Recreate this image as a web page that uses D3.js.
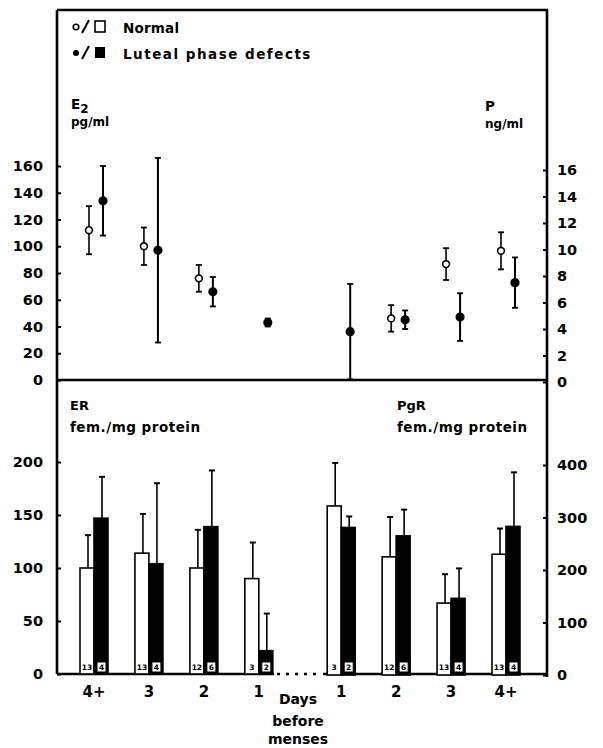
<!DOCTYPE html>
<html><head><meta charset="utf-8">
<script src="https://cdn.jsdelivr.net/npm/d3@7/dist/d3.min.js"></script>
<style>
body{margin:0;background:#fff}
text{font-family:"DejaVu Sans",sans-serif;font-weight:bold;fill:#000}
</style>
</head><body><svg id="c" width="603" height="748"></svg>
<script>
// ---------- data ----------
const leftDays = ["4+", "3", "2", "1"];
const rightDays = ["1", "2", "3", "4+"];
// E2 (pg/ml), days before menses 4+..1 (left half)
const e2NormalMean = [112, 100, 76, null];
const e2NormalSE   = [18, 14, 10, null];
const e2LpdMean    = [134, 97, 66, 43];
const e2LpdSE      = [26, 69, 11, 3];
// P (ng/ml), days 1..4+ (right half)
const pNormalMean = [null, 4.8, 8.9, 9.9];
const pNormalSE   = [null, 1.0, 1.2, 1.4];
const pLpdMean    = [3.8, 4.7, 4.9, 7.5];
const pLpdSE      = [3.6, 0.7, 1.8, 1.9];
// ER (fem./mg protein), left half
const erNormal   = [100, 114, 100, 90];
const erNormalSE = [31, 37, 36, 34];
const erLpd      = [147, 104, 139, 22];
const erLpdSE    = [39, 76, 53, 35];
// PgR (fem./mg protein), right half
const pgrNormal   = [322, 225, 137, 230];
const pgrNormalSE = [82, 76, 55, 49];
const pgrLpd      = [281, 265, 146, 283];
const pgrLpdSE    = [21, 50, 57, 103];
// n per group
const nNormalL = ["13", "13", "12", "3"];
const nLpdL    = ["4", "4", "6", "2"];
const nNormalR = ["3", "12", "13", "13"];
const nLpdR    = ["2", "6", "4", "4"];
// ticks
const e2Ticks  = [0, 20, 40, 60, 80, 100, 120, 140, 160];
const pTicks   = [0, 2, 4, 6, 8, 10, 12, 14, 16];
const erTicks  = [0, 50, 100, 150, 200];
const pgrTicks = [0, 100, 200, 300, 400];

// ---------- layout ----------
const svg = d3.select("#c");
const L = 57, R = 547, T = 10, MID = 380, B = 674;
const x = d3.scaleLinear().domain([0, 7.5]).range([94, 506]);
const slotL = i => i, slotR = i => i + 4.5;
const yE2 = d3.scaleLinear().domain([0, 160]).range([MID, 166]);
const yP = d3.scaleLinear().domain([0, 16]).range([382, 170]);
const yER = d3.scaleLinear().domain([0, 200]).range([B, 462]);
const yPgR = d3.scaleLinear().domain([0, 400]).range([675, 465]);
const BW = 14;

// ---------- axes ----------
function styleAxis(g) {
  g.select(".domain").remove();
  g.selectAll(".tick line").attr("stroke", "#000").attr("stroke-width", 2);
  g.selectAll(".tick text").attr("font-size", 14.5).attr("font-family", "DejaVu Sans").attr("font-weight", "bold").attr("fill", "#000");
}
svg.append("g").attr("transform", `translate(${L},0)`)
  .call(d3.axisLeft(yE2).tickValues(e2Ticks).tickSize(-4).tickPadding(14)).call(styleAxis);
svg.append("g").attr("transform", `translate(${R},0)`)
  .call(d3.axisRight(yP).tickValues(pTicks).tickSize(-4).tickPadding(10)).call(styleAxis);
svg.append("g").attr("transform", `translate(${L},0)`)
  .call(d3.axisLeft(yER).tickValues(erTicks).tickSize(-4).tickPadding(14)).call(styleAxis);
svg.append("g").attr("transform", `translate(${R},0)`)
  .call(d3.axisRight(yPgR).tickValues(pgrTicks).tickSize(-4).tickPadding(10)).call(styleAxis);

// ---------- frame ----------
const fr = svg.append("g").attr("stroke", "#000").attr("stroke-width", 2.6).attr("fill", "none");
fr.append("line").attr("x1", L).attr("x2", R + 1).attr("y1", T).attr("y2", T);
fr.append("line").attr("x1", L).attr("x2", L).attr("y1", T).attr("y2", B);
fr.append("line").attr("x1", R).attr("x2", R).attr("y1", T).attr("y2", 677);
fr.append("line").attr("x1", L).attr("x2", R).attr("y1", MID).attr("y2", MID);
fr.append("line").attr("x1", L).attr("x2", 274).attr("y1", B).attr("y2", B);
fr.append("line").attr("x1", 323).attr("x2", R).attr("y1", B).attr("y2", B);
fr.append("line").attr("x1", 277).attr("x2", 322).attr("y1", B).attr("y2", B)
  .attr("stroke-width", 2.6).attr("stroke-dasharray", "3,6");

// ---------- top panel: points ----------
function points(means, ses, slotFn, y, filled, dx) {
  const d = means.map((m, i) => ({m, s: ses[i], i})).filter(d => d.m != null);
  const g = svg.append("g");
  const gg = g.selectAll("g").data(d).join("g")
    .attr("transform", d => `translate(${x(slotFn(d.i)) + dx},0)`);
  gg.append("line").attr("y1", d => y(d.m + d.s)).attr("y2", d => y(d.m - d.s))
    .attr("stroke", "#000").attr("stroke-width", filled ? 2 : 1.6);
  gg.append("line").attr("x1", -3).attr("x2", 3).attr("y1", d => y(d.m + d.s)).attr("y2", d => y(d.m + d.s))
    .attr("stroke", "#000").attr("stroke-width", 1.8);
  gg.append("line").attr("x1", -3).attr("x2", 3).attr("y1", d => y(d.m - d.s)).attr("y2", d => y(d.m - d.s))
    .attr("stroke", "#000").attr("stroke-width", 1.8);
  gg.append("circle").attr("cy", d => y(d.m)).attr("r", filled ? 3.8 : 3.4)
    .attr("fill", filled ? "#000" : "#fff").attr("stroke", "#000").attr("stroke-width", 1.6);
}
points(e2NormalMean, e2NormalSE, slotL, yE2, false, -5);
points(e2LpdMean, e2LpdSE, slotL, yE2, true, 9);
points(pNormalMean, pNormalSE, slotR, yP, false, -5);
points(pLpdMean, pLpdSE, slotR, yP, true, 9);

// ---------- bottom panel: bars ----------
function bars(vals, ses, ns, slotFn, y, filled) {
  const d = vals.map((v, i) => ({v, s: ses[i], n: ns[i], i}));
  const g = svg.append("g");
  const gg = g.selectAll("g").data(d).join("g")
    .attr("transform", d => `translate(${x(slotFn(d.i)) + (filled ? 0 : -BW)},0)`);
  const cx = BW / 2 + 1;
  gg.append("line").attr("x1", cx).attr("x2", cx).attr("y1", d => y(d.v)).attr("y2", d => y(d.v + d.s))
    .attr("stroke", "#000").attr("stroke-width", 1.6);
  gg.append("line").attr("x1", cx - 3).attr("x2", cx + 3).attr("y1", d => y(d.v + d.s)).attr("y2", d => y(d.v + d.s))
    .attr("stroke", "#000").attr("stroke-width", 2);
  gg.append("rect").attr("x", 0).attr("width", BW).attr("y", d => y(d.v)).attr("height", d => y(0) - y(d.v))
    .attr("fill", filled ? "#000" : "#fff").attr("stroke", "#000").attr("stroke-width", 1.6);
  if (filled) {
    gg.append("rect").attr("x", 3).attr("width", 9).attr("y", B - 12).attr("height", 10)
      .attr("fill", "#fff").attr("stroke", "#000").attr("stroke-width", 1);
  }
  gg.append("text").attr("x", filled ? 7.5 : 7).attr("y", B - 4).attr("text-anchor", "middle")
    .attr("font-size", 7.5).text(d => d.n);
}
bars(erNormal, erNormalSE, nNormalL, slotL, yER, false);
bars(erLpd, erLpdSE, nLpdL, slotL, yER, true);
bars(pgrNormal, pgrNormalSE, nNormalR, slotR, yPgR, false);
bars(pgrLpd, pgrLpdSE, nLpdR, slotR, yPgR, true);

// ---------- x labels ----------
const xl = svg.append("g").attr("font-size", 15).attr("text-anchor", "middle");
xl.selectAll(".l").data(leftDays).join("text").attr("class", "l")
  .attr("x", (d, i) => x(slotL(i))).attr("y", 697).text(d => d);
xl.selectAll(".r").data(rightDays).join("text").attr("class", "r")
  .attr("x", (d, i) => x(slotR(i))).attr("y", 697).text(d => d);
const dl = svg.append("g").attr("font-size", 14).attr("text-anchor", "middle");
dl.append("text").attr("x", 298).attr("y", 704).text("Days");
dl.append("text").attr("x", 298).attr("y", 726).text("before");
dl.append("text").attr("x", 298).attr("y", 744).text("menses");

// ---------- labels ----------
const lab = svg.append("g");
lab.append("text").attr("x", 71).attr("y", 109).attr("font-size", 13.5).html('E<tspan dy="4" font-size="12">2</tspan>');
lab.append("text").attr("x", 71).attr("y", 126).attr("font-size", 12).text("pg/ml");
lab.append("text").attr("x", 485).attr("y", 111).attr("font-size", 13.5).text("P");
lab.append("text").attr("x", 485).attr("y", 128).attr("font-size", 12).text("ng/ml");
lab.append("text").attr("x", 70).attr("y", 410).attr("font-size", 13).text("ER");
lab.append("text").attr("x", 70).attr("y", 432).attr("font-size", 13.5).attr("letter-spacing", 0.5).text("fem./mg protein");
lab.append("text").attr("x", 397).attr("y", 410).attr("font-size", 13).text("PgR");
lab.append("text").attr("x", 397).attr("y", 432).attr("font-size", 13.5).attr("letter-spacing", 0.5).text("fem./mg protein");

// ---------- legend ----------
const lg = svg.append("g");
lg.append("circle").attr("cx", 76).attr("cy", 27).attr("r", 2.8).attr("fill", "#fff").attr("stroke", "#000").attr("stroke-width", 1.6);
lg.append("line").attr("x1", 82).attr("y1", 33).attr("x2", 89).attr("y2", 20).attr("stroke", "#000").attr("stroke-width", 2);
lg.append("rect").attr("x", 95).attr("y", 21).attr("width", 10).attr("height", 11).attr("fill", "#fff").attr("stroke", "#000").attr("stroke-width", 1.6);
lg.append("text").attr("x", 123).attr("y", 33).attr("font-size", 13.5).attr("letter-spacing", 0.2).text("Normal");
lg.append("circle").attr("cx", 76).attr("cy", 53).attr("r", 3).attr("fill", "#000");
lg.append("line").attr("x1", 82).attr("y1", 59).attr("x2", 89).attr("y2", 46).attr("stroke", "#000").attr("stroke-width", 2);
lg.append("rect").attr("x", 95).attr("y", 47).attr("width", 10).attr("height", 11).attr("fill", "#000");
lg.append("text").attr("x", 123).attr("y", 59).attr("font-size", 13.5).attr("letter-spacing", 1.5).text("Luteal phase defects");
</script></body></html>
